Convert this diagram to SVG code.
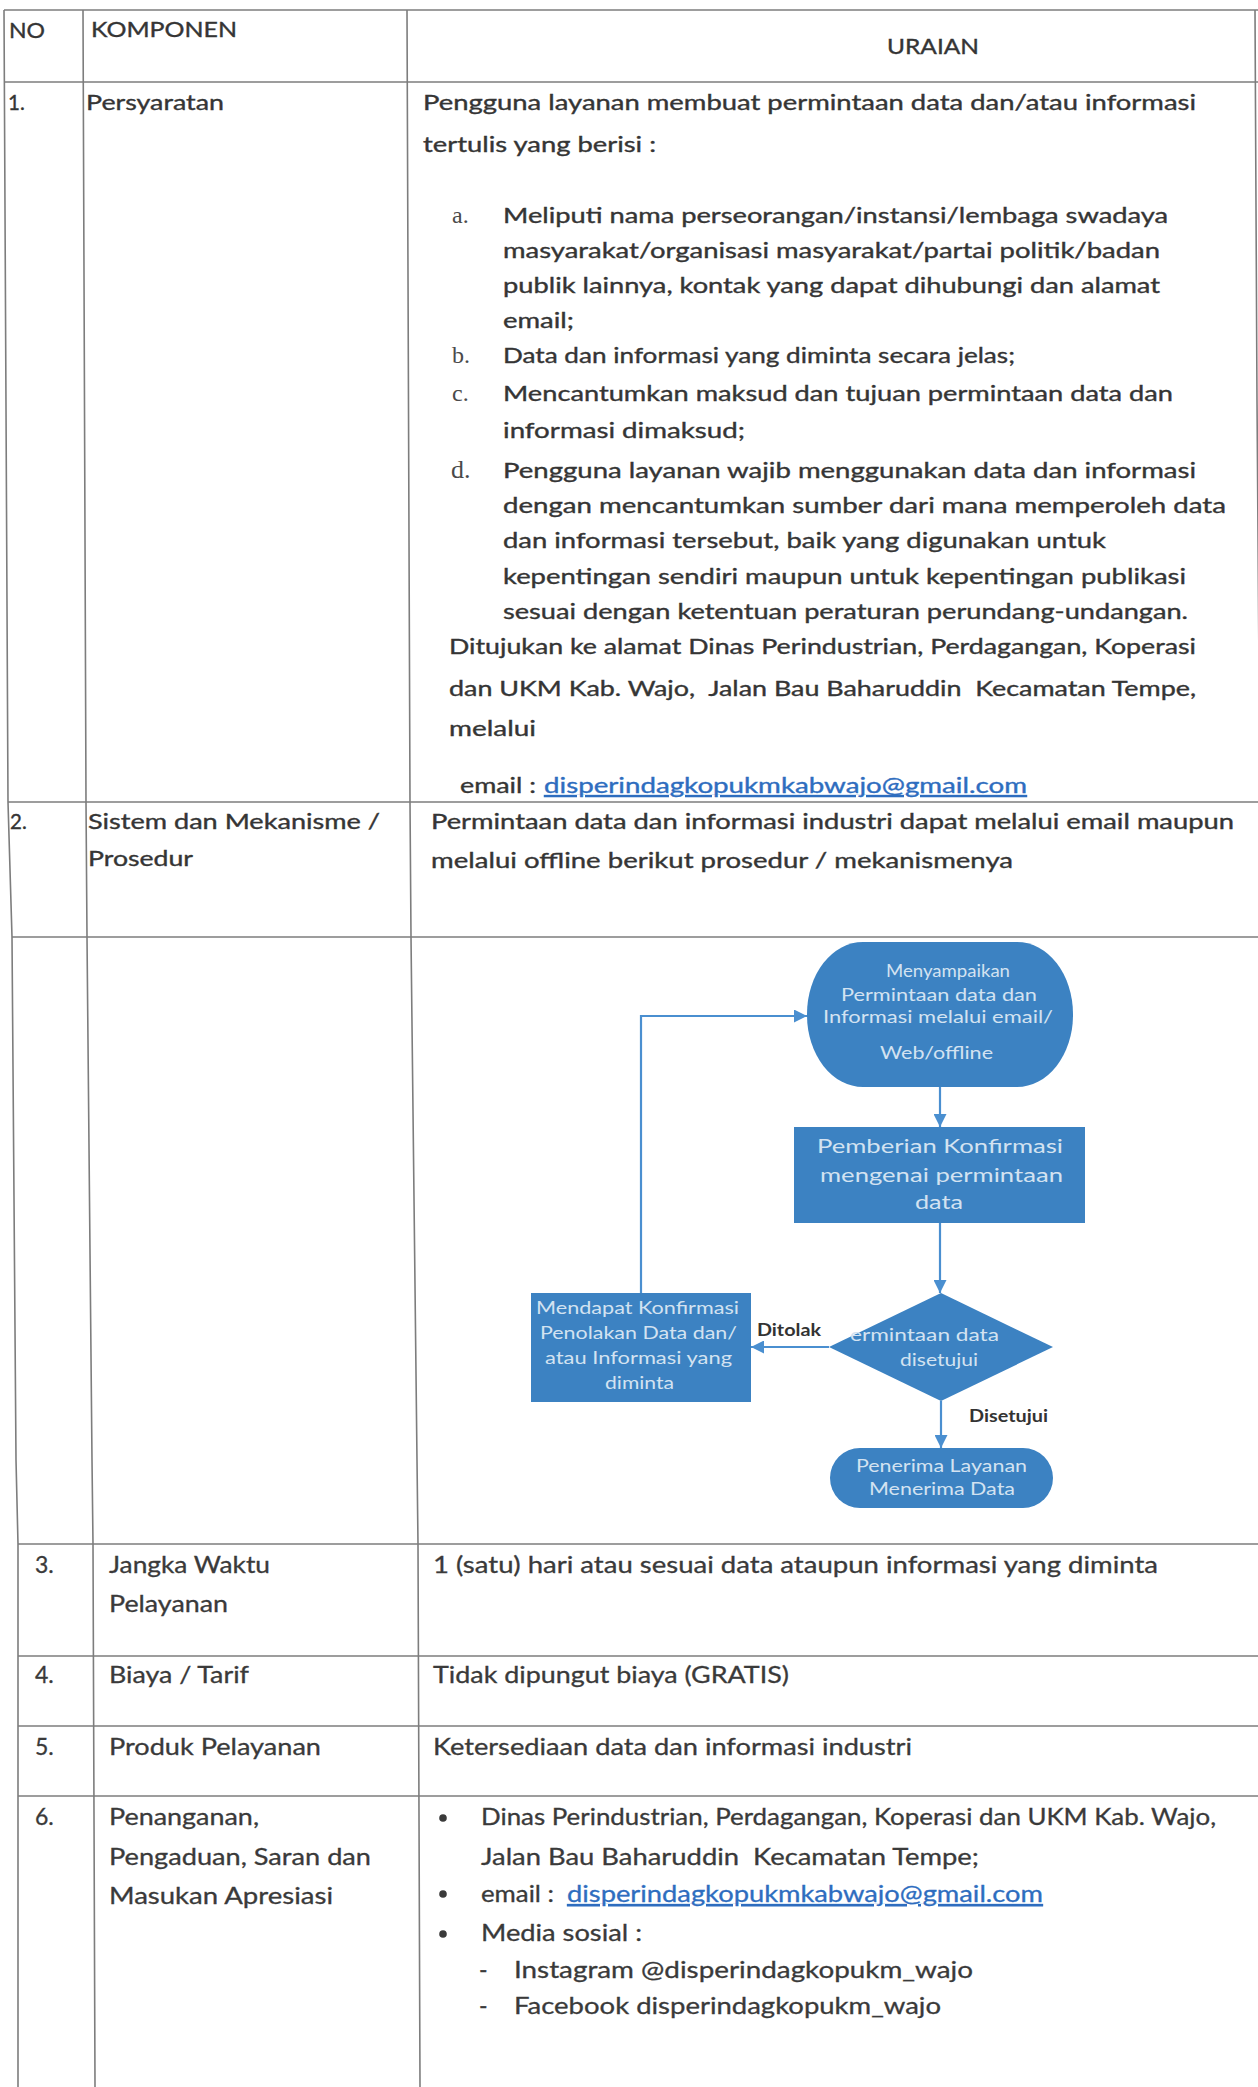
<svg xmlns="http://www.w3.org/2000/svg" width="1258" height="2087" viewBox="0 0 1258 2087">
<style>
.grid{fill:none;stroke:#7d7d7d;stroke-width:1.6}
.t{font-family:Lato,"Liberation Sans",sans-serif;font-size:20.5px;fill:#353535;stroke:#353535;stroke-width:0.35;white-space:pre}
.tl{font-family:Lato,"Liberation Sans",sans-serif;font-size:23px;fill:#3a3a3a;stroke:#3a3a3a;stroke-width:0.3;white-space:pre}
.mk{font-family:"Liberation Serif",serif;font-size:24px;fill:#4a4a4a}
.lnk{fill:#2e6dbf;stroke:#2e6dbf;text-decoration:underline}
.shape{fill:#3c82c2}
.st{font-family:Lato,"Liberation Sans",sans-serif;font-size:16.5px;fill:#d3e2f1}
.st2{font-family:Lato,"Liberation Sans",sans-serif;font-size:18.5px;fill:#d3e2f1}
.lbl{font-family:Lato,"Liberation Sans",sans-serif;font-size:16.5px;fill:#333;font-weight:bold}
.conn{fill:none;stroke:#4a8fd0;stroke-width:2.2}
</style>
<defs>
<marker id="ah" viewBox="0 0 10 10" refX="10" refY="5" markerUnits="userSpaceOnUse" markerWidth="13" markerHeight="13" orient="auto">
<path d="M0,0 L10,5 L0,10 z" fill="#4a8fd0"/>
</marker>
</defs>
<rect width="1258" height="2087" fill="#ffffff"/>

<g id="table-grid" class="grid">
<polyline points="4,10 8,802 12,937 16,1460 18,1544 18,2087"/>
<polyline points="83,10 86,802 87,937 92,1460 93,1544 95,2087"/>
<polyline points="407,10 410,802 411,937 417,1460 418,1544 420,2087"/>
<polyline points="1255,10 1257,400 1260,800"/>
<line x1="4" y1="10" x2="1258" y2="10"/>
<line x1="4" y1="82" x2="1258" y2="82"/>
<line x1="8" y1="802" x2="1258" y2="802"/>
<line x1="12" y1="937" x2="1258" y2="937"/>
<line x1="18" y1="1544" x2="1258" y2="1544"/>
<line x1="18" y1="1656" x2="1258" y2="1656"/>
<line x1="18" y1="1726" x2="1258" y2="1726"/>
<line x1="18" y1="1796" x2="1258" y2="1796"/>
</g>

<g id="header">
<text class="t" x="9" y="38" textLength="36" lengthAdjust="spacingAndGlyphs">NO</text>
<text class="t" x="91" y="37" textLength="146" lengthAdjust="spacingAndGlyphs">KOMPONEN</text>
<text class="t" x="887" y="54" textLength="92" lengthAdjust="spacingAndGlyphs">URAIAN</text>
</g>

<g id="row-1">
<text class="t" x="8" y="110">1.</text>
<text class="t" x="86" y="110" textLength="138" lengthAdjust="spacingAndGlyphs">Persyaratan</text>
<text class="t" x="423" y="110" textLength="773" lengthAdjust="spacingAndGlyphs">Pengguna layanan membuat permintaan data dan/atau informasi</text>
<text class="t" x="423" y="152" textLength="233" lengthAdjust="spacingAndGlyphs">tertulis yang berisi :</text>
<text class="mk" x="452" y="223">a.</text>
<text class="t" x="503" y="223" textLength="665" lengthAdjust="spacingAndGlyphs">Meliputi nama perseorangan/instansi/lembaga swadaya</text>
<text class="t" x="503" y="258" textLength="657" lengthAdjust="spacingAndGlyphs">masyarakat/organisasi masyarakat/partai politik/badan</text>
<text class="t" x="503" y="293" textLength="657" lengthAdjust="spacingAndGlyphs">publik lainnya, kontak yang dapat dihubungi dan alamat</text>
<text class="t" x="503" y="328" textLength="71" lengthAdjust="spacingAndGlyphs">email;</text>
<text class="mk" x="452" y="363">b.</text>
<text class="t" x="503" y="363" textLength="512" lengthAdjust="spacingAndGlyphs">Data dan informasi yang diminta secara jelas;</text>
<text class="mk" x="452" y="401">c.</text>
<text class="t" x="503" y="401" textLength="670" lengthAdjust="spacingAndGlyphs">Mencantumkan maksud dan tujuan permintaan data dan</text>
<text class="t" x="503" y="438" textLength="242" lengthAdjust="spacingAndGlyphs">informasi dimaksud;</text>
<text class="mk" x="451" y="478" style="font-size:26px">d.</text>
<text class="t" x="503" y="478" textLength="693" lengthAdjust="spacingAndGlyphs">Pengguna layanan wajib menggunakan data dan informasi</text>
<text class="t" x="503" y="513" textLength="723" lengthAdjust="spacingAndGlyphs">dengan mencantumkan sumber dari mana memperoleh data</text>
<text class="t" x="503" y="548" textLength="603" lengthAdjust="spacingAndGlyphs">dan informasi tersebut, baik yang digunakan untuk</text>
<text class="t" x="503" y="584" textLength="683" lengthAdjust="spacingAndGlyphs">kepentingan sendiri maupun untuk kepentingan publikasi</text>
<text class="t" x="503" y="619" textLength="685" lengthAdjust="spacingAndGlyphs">sesuai dengan ketentuan peraturan perundang-undangan.</text>
<text class="t" x="449" y="654" textLength="747" lengthAdjust="spacingAndGlyphs">Ditujukan ke alamat Dinas Perindustrian, Perdagangan, Koperasi</text>
<text class="t" x="449" y="696" textLength="747" lengthAdjust="spacingAndGlyphs">dan UKM Kab. Wajo,  Jalan Bau Baharuddin  Kecamatan Tempe,</text>
<text class="t" x="449" y="736" textLength="87" lengthAdjust="spacingAndGlyphs">melalui</text>
<text class="t" x="460" y="793" textLength="76" lengthAdjust="spacingAndGlyphs">email :</text>
<text class="t lnk" x="544" y="793" textLength="483" lengthAdjust="spacingAndGlyphs">disperindagkopukmkabwajo@gmail.com</text>
</g>

<g id="row-2">
<text class="t" x="10" y="829">2.</text>
<text class="t" x="88" y="829" textLength="292" lengthAdjust="spacingAndGlyphs">Sistem dan Mekanisme /</text>
<text class="t" x="88" y="866" textLength="105" lengthAdjust="spacingAndGlyphs">Prosedur</text>
<text class="t" x="431" y="829" textLength="803" lengthAdjust="spacingAndGlyphs">Permintaan data dan informasi industri dapat melalui email maupun</text>
<text class="t" x="431" y="868" textLength="582" lengthAdjust="spacingAndGlyphs">melalui offline berikut prosedur / mekanismenya</text>
</g>

<g id="connectors">
<path class="conn" d="M940,1087 L940,1127" marker-end="url(#ah)"/>
<path class="conn" d="M940,1223 L940,1293" marker-end="url(#ah)"/>
<path class="conn" d="M829,1347 L751,1347" marker-end="url(#ah)"/>
<path class="conn" d="M941,1401 L941,1448" marker-end="url(#ah)"/>
<path class="conn" d="M641,1293 L641,1016 L807,1016" marker-end="url(#ah)"/>
<text class="lbl" x="757" y="1336" textLength="64" lengthAdjust="spacingAndGlyphs">Ditolak</text>
<text class="lbl" x="969" y="1422" textLength="79" lengthAdjust="spacingAndGlyphs">Disetujui</text>
</g>

<g id="node-submit">
<rect class="shape" x="807" y="942" width="266" height="145" rx="56" ry="72"/>
<text class="st" x="886" y="977" textLength="124" lengthAdjust="spacingAndGlyphs">Menyampaikan</text>
<text class="st" x="841" y="1001" textLength="196" lengthAdjust="spacingAndGlyphs">Permintaan data dan</text>
<text class="st" x="823" y="1023" textLength="230" lengthAdjust="spacingAndGlyphs">Informasi melalui email/</text>
<text class="st" x="880" y="1059" textLength="113" lengthAdjust="spacingAndGlyphs">Web/offline</text>
</g>

<g id="node-confirm">
<rect class="shape" x="794" y="1127" width="291" height="96"/>
<text class="st2" x="817" y="1153" textLength="246" lengthAdjust="spacingAndGlyphs">Pemberian Konfirmasi</text>
<text class="st2" x="820" y="1182" textLength="243" lengthAdjust="spacingAndGlyphs">mengenai permintaan</text>
<text class="st2" x="915" y="1209" textLength="48" lengthAdjust="spacingAndGlyphs">data</text>
</g>

<g id="node-decision">
<polygon class="shape" points="941,1293 1053,1347 941,1401 829,1347"/>
<text class="st" x="850" y="1341" textLength="149" lengthAdjust="spacingAndGlyphs">ermintaan data</text>
<text class="st" x="900" y="1366" textLength="78" lengthAdjust="spacingAndGlyphs">disetujui</text>
</g>

<g id="node-rejected">
<rect class="shape" x="531" y="1293" width="220" height="109"/>
<text class="st" x="536" y="1314" textLength="203" lengthAdjust="spacingAndGlyphs">Mendapat Konfirmasi</text>
<text class="st" x="540" y="1339" textLength="197" lengthAdjust="spacingAndGlyphs">Penolakan Data dan/</text>
<text class="st" x="545" y="1364" textLength="187" lengthAdjust="spacingAndGlyphs">atau Informasi yang</text>
<text class="st" x="605" y="1389" textLength="69" lengthAdjust="spacingAndGlyphs">diminta</text>
</g>

<g id="node-receive">
<rect class="shape" x="830" y="1448" width="223" height="60" rx="30" ry="30"/>
<text class="st" x="856" y="1472" textLength="171" lengthAdjust="spacingAndGlyphs">Penerima Layanan</text>
<text class="st" x="869" y="1495" textLength="146" lengthAdjust="spacingAndGlyphs">Menerima Data</text>
</g>

<g id="row-3">
<text class="tl" x="35" y="1573">3.</text>
<text class="tl" x="109" y="1573" textLength="161" lengthAdjust="spacingAndGlyphs">Jangka Waktu</text>
<text class="tl" x="109" y="1612" textLength="119" lengthAdjust="spacingAndGlyphs">Pelayanan</text>
<text class="tl" x="433" y="1573" textLength="725" lengthAdjust="spacingAndGlyphs">1 (satu) hari atau sesuai data ataupun informasi yang diminta</text>
</g>

<g id="row-4">
<text class="tl" x="35" y="1683">4.</text>
<text class="tl" x="109" y="1683" textLength="140" lengthAdjust="spacingAndGlyphs">Biaya / Tarif</text>
<text class="tl" x="433" y="1683" textLength="356" lengthAdjust="spacingAndGlyphs">Tidak dipungut biaya (GRATIS)</text>
</g>

<g id="row-5">
<text class="tl" x="35" y="1755">5.</text>
<text class="tl" x="109" y="1755" textLength="212" lengthAdjust="spacingAndGlyphs">Produk Pelayanan</text>
<text class="tl" x="433" y="1755" textLength="479" lengthAdjust="spacingAndGlyphs">Ketersediaan data dan informasi industri</text>
</g>

<g id="row-6">
<text class="tl" x="35" y="1825">6.</text>
<text class="tl" x="109" y="1825" textLength="150" lengthAdjust="spacingAndGlyphs">Penanganan,</text>
<text class="tl" x="109" y="1865" textLength="262" lengthAdjust="spacingAndGlyphs">Pengaduan, Saran dan</text>
<text class="tl" x="109" y="1904" textLength="224" lengthAdjust="spacingAndGlyphs">Masukan Apresiasi</text>
<circle cx="443" cy="1818" r="3.8" fill="#3a3a3a"/>
<circle cx="443" cy="1894" r="3.8" fill="#3a3a3a"/>
<circle cx="443" cy="1934" r="3.8" fill="#3a3a3a"/>
<text class="tl" x="481" y="1825" textLength="735" lengthAdjust="spacingAndGlyphs">Dinas Perindustrian, Perdagangan, Koperasi dan UKM Kab. Wajo,</text>
<text class="tl" x="481" y="1865" textLength="498" lengthAdjust="spacingAndGlyphs">Jalan Bau Baharuddin  Kecamatan Tempe;</text>
<text class="tl" x="481" y="1902" textLength="73" lengthAdjust="spacingAndGlyphs">email :</text>
<text class="tl lnk" x="567" y="1902" textLength="476" lengthAdjust="spacingAndGlyphs">disperindagkopukmkabwajo@gmail.com</text>
<text class="tl" x="481" y="1941" textLength="161" lengthAdjust="spacingAndGlyphs">Media sosial :</text>
<text class="tl" x="479" y="1978">-</text>
<text class="tl" x="514" y="1978" textLength="459" lengthAdjust="spacingAndGlyphs">Instagram @disperindagkopukm_wajo</text>
<text class="tl" x="479" y="2014">-</text>
<text class="tl" x="514" y="2014" textLength="427" lengthAdjust="spacingAndGlyphs">Facebook disperindagkopukm_wajo</text>
</g>
</svg>
